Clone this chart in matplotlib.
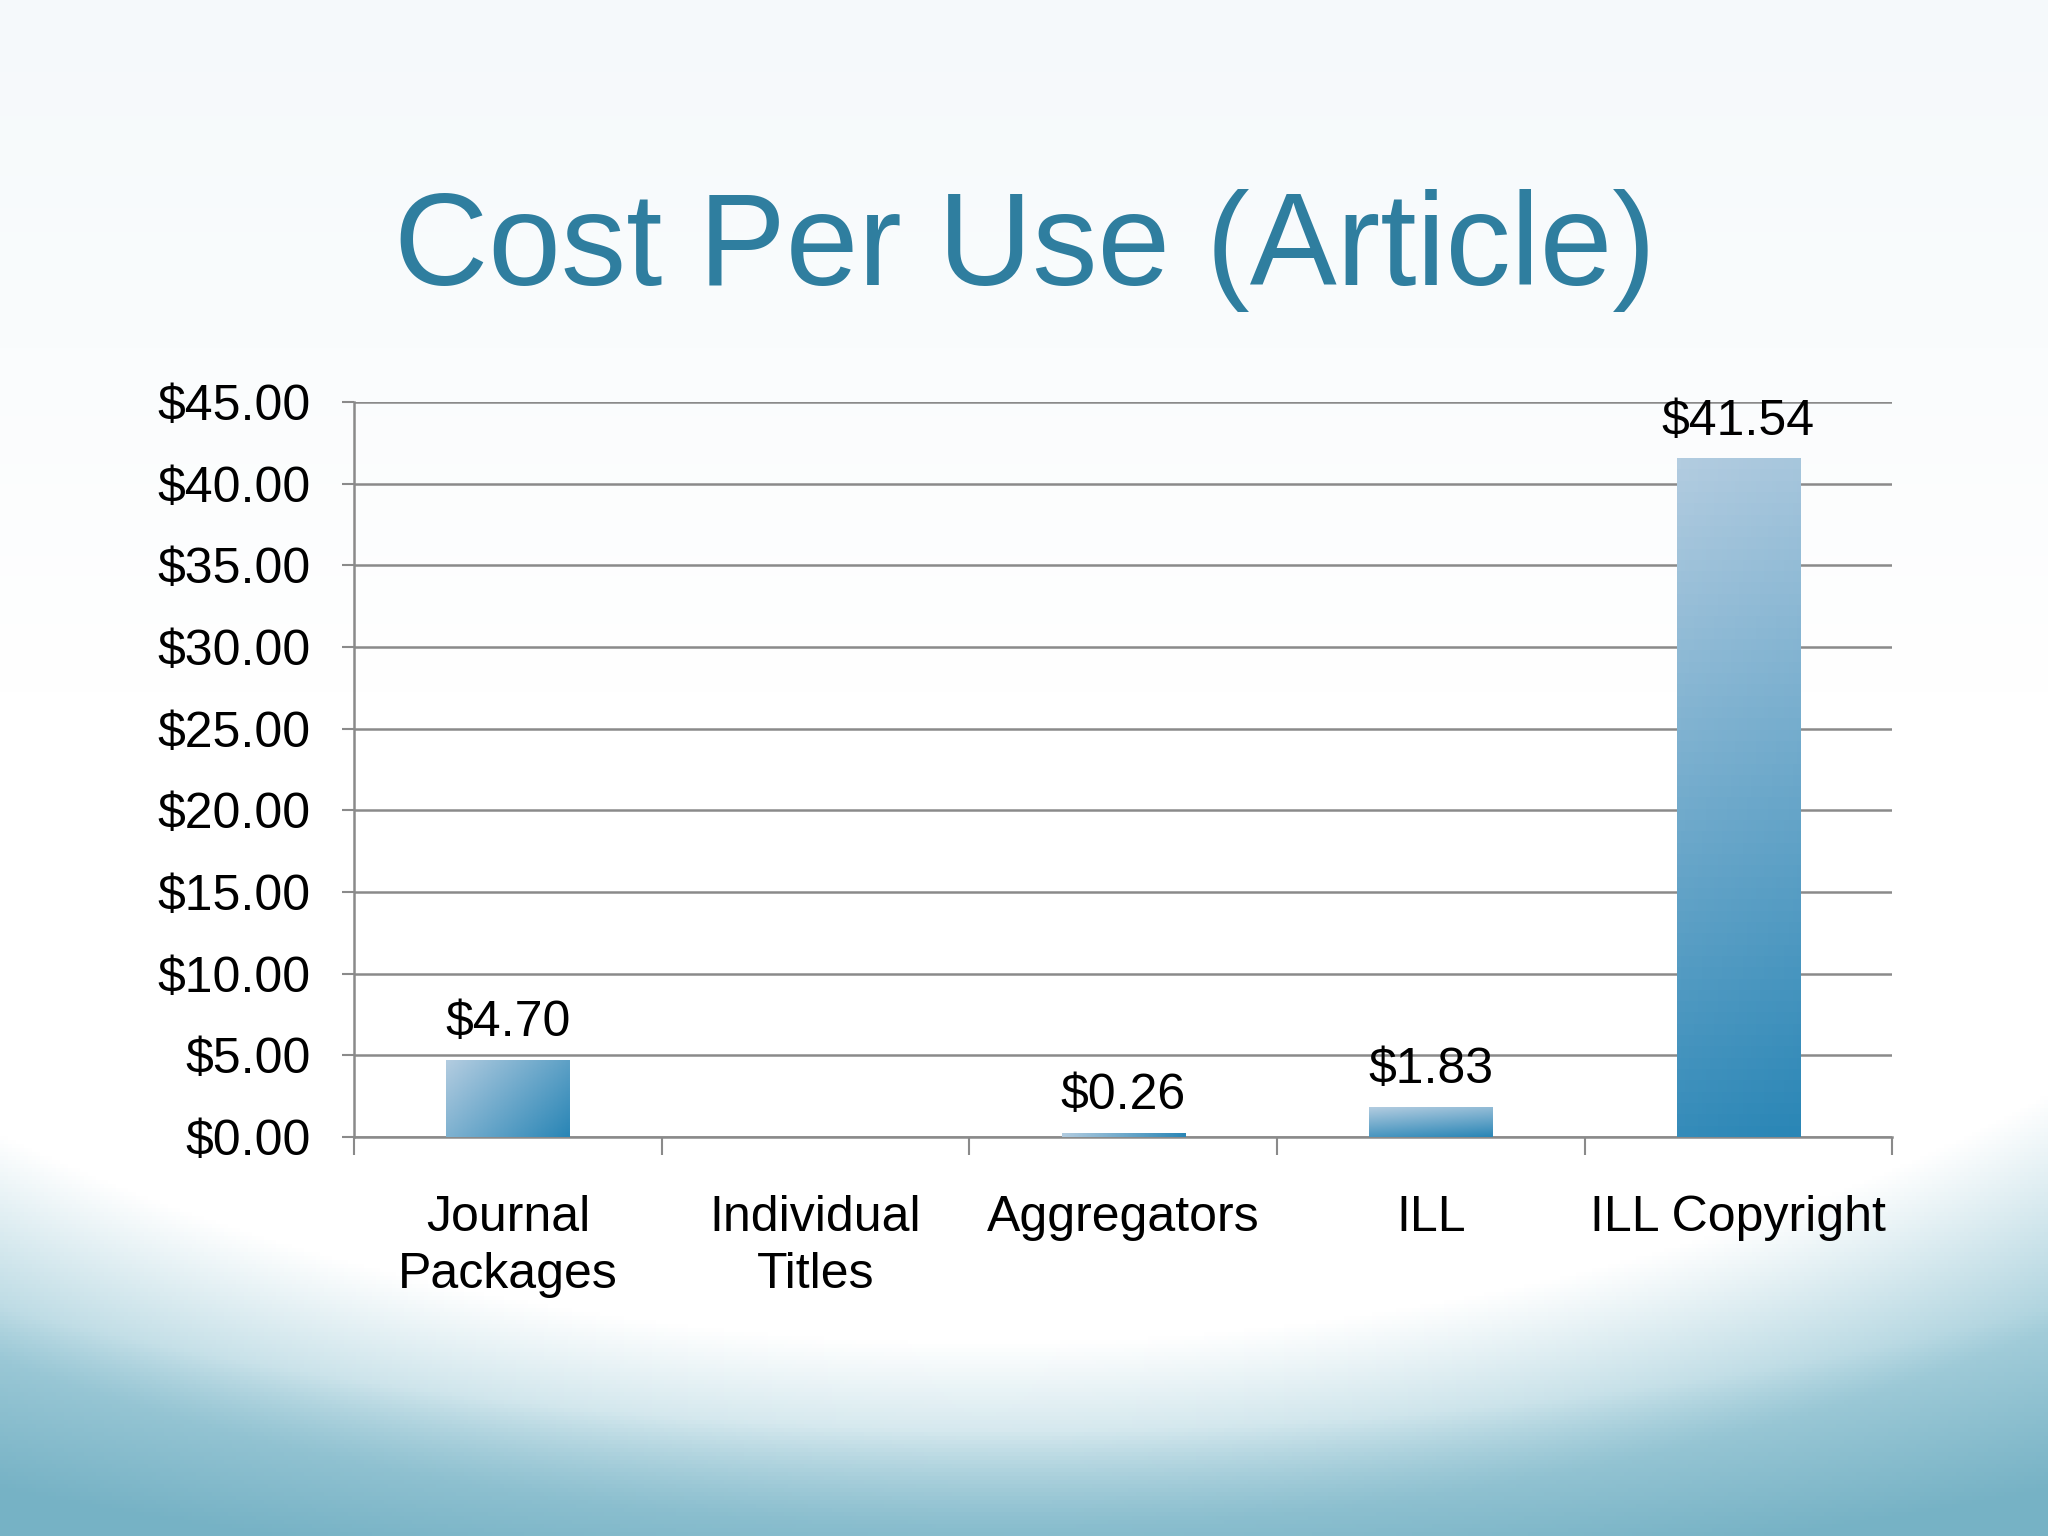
import matplotlib
matplotlib.use("Agg")
import matplotlib.pyplot as plt
import numpy as np
from matplotlib.colors import to_rgb

plt.rcParams['font.family'] = ['Liberation Sans', 'DejaVu Sans']

# Data
categories = ["Journal\nPackages", "Individual\nTitles", "Aggregators", "ILL", "ILL Copyright"]
costs = [4.70, np.nan, 0.26, 1.83, 41.54]
cost_labels = ["$4.70", "", "$0.26", "$1.83", "$41.54"]
yticks = [0, 5, 10, 15, 20, 25, 30, 35, 40, 45]

fig = plt.figure(figsize=(20.48, 15.36), dpi=100)

# Background (slide theme)
bg = fig.add_axes([0, 0, 1, 1], zorder=-10)
H, W = 384, 512
v, u = np.mgrid[0:H, 0:W]
u = u / W
v = v / H
top = np.array(to_rgb('#F5F9FB'))
white = np.array(to_rgb('#FFFFFF'))
mid = np.array(to_rgb('#A8D0DC'))
deep = np.array(to_rgb('#76B2C5'))
t0 = np.clip(v / 0.45, 0, 1)[..., None]
img = top * (1 - t0) + white * t0
r1 = np.sqrt(((u - 0.48) / 0.83) ** 2 + ((v - 0.25) / 0.67) ** 2)
t1 = np.clip((r1 - 0.93) / 0.18, 0, 1)[..., None]
img = img * (1 - t1) + mid * t1
r2 = np.sqrt(((u - 0.5) / 0.95) ** 2 + ((v - 0.42) / 0.52) ** 2)
t2 = np.clip((r2 - 0.98) / 0.2, 0, 1)[..., None]
img = img * (1 - t2) + deep * t2
bg.imshow(img, extent=[0, 1, 0, 1], aspect='auto', origin='upper')
bg.set_xlim(0, 1)
bg.set_ylim(0, 1)
bg.axis('off')

fig.text(0.5005, 0.8145, "Cost Per Use (Article)", fontsize=94, color='#2F7E9F',
         ha='center', va='baseline')

ax = fig.add_axes([0.1729, 0.2598, 0.751, 0.4785])
ax.patch.set_alpha(0)
x = np.arange(len(categories))
bars = ax.bar(x, np.nan_to_num(costs), width=0.40, color='none', edgecolor='none', zorder=3)

light = np.array(to_rgb('#B2CCE0'))
dark = np.array(to_rgb('#2A86B6'))
fig.canvas.draw()
gv, gu = np.mgrid[0:60, 0:30]
gu = gu / 29
gv = gv / 59
for b, val in zip(bars, costs):
    if np.isnan(val) or val == 0:
        continue
    ext = b.get_window_extent()
    a = ext.width / (ext.width + ext.height)
    s = a * gu + (1 - a) * gv
    grad = light * (1 - s[..., None]) + dark * s[..., None]
    x0 = b.get_x()
    im = ax.imshow(grad, extent=[x0, x0 + b.get_width(), 0, b.get_height()],
                   aspect='auto', origin='upper', zorder=3)
    im.set_clip_path(b)

for b, val, lab in zip(bars, costs, cost_labels):
    if np.isnan(val):
        continue
    ax.annotate(lab, (b.get_x() + b.get_width() / 2, val), xytext=(0, 10),
                textcoords='offset points', ha='center', va='bottom',
                fontsize=36, color='black', zorder=5)

ax.set_xlim(-0.5, len(categories) - 0.5)
ax.set_ylim(0, 45)
ax.set_yticks(yticks)
ax.set_yticklabels(["${:.2f}".format(t) for t in yticks], fontsize=36)
ax.set_xticks(x)
ax.set_xticklabels(categories, fontsize=36, linespacing=1.3)
ax.set_xticks(np.arange(-0.5, len(categories)), minor=True)
ax.tick_params(axis='x', which='major', length=0, pad=42)
ax.tick_params(axis='x', which='minor', length=13, width=1.5, color='#8A8A8A')
ax.tick_params(axis='y', length=9, width=1.5, color='#8A8A8A', pad=22)
ax.yaxis.grid(True, color='#8A8A8A', linewidth=1.8)
ax.set_axisbelow(True)
for sp in ['top', 'right']:
    ax.spines[sp].set_visible(False)
for sp in ['left', 'bottom']:
    ax.spines[sp].set_color('#8A8A8A')
    ax.spines[sp].set_linewidth(1.8)

fig.savefig("out.png", dpi=100)
